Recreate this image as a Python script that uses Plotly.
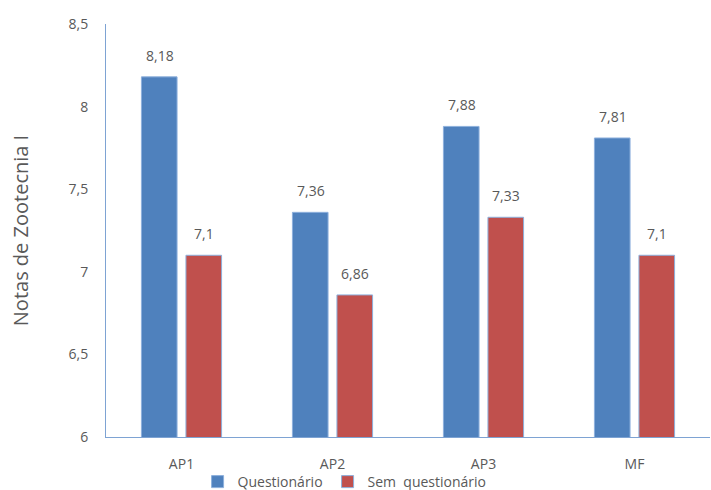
import plotly.graph_objects as go

categories = ["AP1", "AP2", "AP3", "MF"]
questionario = [8.18, 7.36, 7.88, 7.81]
sem_questionario = [7.1, 6.86, 7.33, 7.1]
tick_vals = [6, 6.5, 7, 7.5, 8, 8.5]
tick_text = ["6", "6,5", "7", "7,5", "8", "8,5"]

def fmt(v):
    s = ("%.2f" % v).rstrip("0").rstrip(".")
    return s.replace(".", ",")

font = "Open Sans"
gray = "#595959"

fig = go.Figure()
fig.add_bar(x=categories, y=questionario, name="Questionário",
            marker=dict(color="#4F81BD", line=dict(color="#8DB0DC", width=1)))
fig.add_bar(x=categories, y=sem_questionario, name="Sem  questionário",
            marker=dict(color="#C0504D", line=dict(color="#8DB0DC", width=1)))

annotations = []
for series, dx in ((questionario, -22), (sem_questionario, 22)):
    for c, v in zip(categories, series):
        annotations.append(dict(x=c, y=v, xref="x", yref="y", text=fmt(v),
                                showarrow=False, xshift=dx, yshift=10,
                                yanchor="bottom",
                                font=dict(size=14, color=gray, family=font)))

fig.update_layout(
    width=711, height=490,
    margin=dict(l=106, r=1, t=24, b=53, autoexpand=False),
    paper_bgcolor="white", plot_bgcolor="white",
    barmode="group", bargap=0.41, bargroupgap=0.2,
    font=dict(family=font, color=gray, size=14),
    showlegend=True,
    annotations=annotations,
    legend=dict(orientation="h", x=0.395, xanchor="center", y=-0.109, yanchor="middle",
                bgcolor="rgba(0,0,0,0)",
                font=dict(size=14, color=gray), itemwidth=30, traceorder="normal",
                tracegroupgap=0),
)
fig.update_xaxes(showline=True, linecolor="#7EA3D3", linewidth=1, ticks="",
                 ticklabelstandoff=14,
                 tickfont=dict(size=14, color=gray), showgrid=False)
fig.update_yaxes(range=[6, 8.5], tickvals=tick_vals, ticktext=tick_text,
                 showline=True, linecolor="#7EA3D3", linewidth=1, showgrid=False,
                 ticks="", ticklabelstandoff=14, tickfont=dict(size=14, color=gray),
                 title=dict(text="Notas de Zootecnia I", font=dict(size=20, color=gray), standoff=34),
                 zeroline=False)

fig.write_html("out.html")
